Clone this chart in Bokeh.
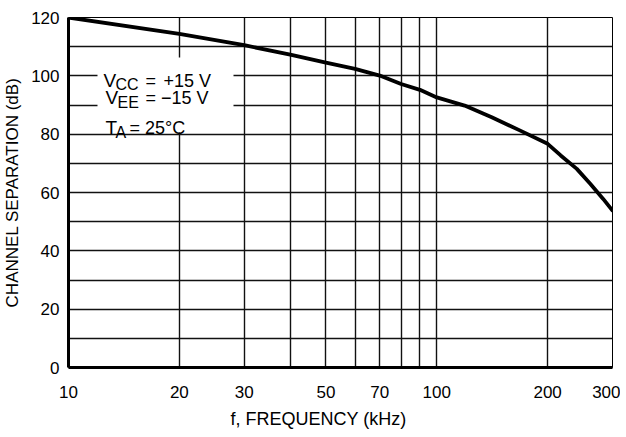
import math
from bokeh.plotting import figure
from bokeh.models import Range1d, FixedTicker, Label, BoxAnnotation, NumeralTickFormatter, Title
from bokeh.embed import file_html
from bokeh.resources import INLINE

# ---- data ----
freq_khz = [10, 20, 30, 40, 50, 60, 70, 80, 90, 100, 119, 141, 168, 200, 217, 240, 261, 283, 300]
sep_db = [120, 114.4, 110.5, 107.3, 104.5, 102.4, 100.1, 97.2, 95.2, 92.6, 89.8, 85.8, 81.3,
          76.7, 72.7, 68.1, 63.0, 57.8, 53.8]

x_ticks = [10, 20, 30, 50, 70, 100, 200, 300]
x_minor = [40, 60, 80, 90]
y_ticks = [0, 20, 40, 60, 80, 100, 120]
y_minor = [10, 30, 50, 70, 90, 110]

FONT = "Liberation Sans"

p = figure(frame_width=544, frame_height=350, x_axis_type="log",
           x_range=Range1d(10, 300), y_range=Range1d(0, 120),
           output_backend="svg", toolbar_location=None,
           min_border_left=68, min_border_right=8, min_border_top=17, min_border_bottom=20)
p.background_fill_color = "white"
p.border_fill_color = "white"
p.outline_line_color = "black"
p.outline_line_width = 1

# frame geometry helpers for annotation placement (pixels -> data)
FX0, FX1 = 68, 612
FY0, FY1 = 367, 17
def fx(px):
    return 10 * 10 ** ((px - FX0) / (FX1 - FX0) * math.log10(30))
def fy(py):
    return (FY0 - py) / (FY0 - FY1) * 120

p.xaxis.ticker = FixedTicker(ticks=x_ticks, minor_ticks=x_minor)
p.yaxis.ticker = FixedTicker(ticks=y_ticks, minor_ticks=y_minor)
p.xaxis.formatter = NumeralTickFormatter(format="0")

for g in (p.xgrid, p.ygrid):
    g.grid_line_color = "#111111"
    g.grid_line_width = 1.4
    g.minor_grid_line_color = "#111111"
    g.minor_grid_line_width = 1.4

for ax in (p.xaxis, p.yaxis):
    ax.axis_line_color = "black"
    ax.axis_line_width = 3
    ax.major_tick_line_color = None
    ax.minor_tick_line_color = None
    ax.major_tick_out = 0
    ax.major_tick_in = 0
    ax.major_label_text_font = FONT
    ax.major_label_text_font_size = "17px"
    ax.major_label_text_color = "black"
    ax.axis_label_text_font = FONT
    ax.axis_label_text_font_size = "17px"
    ax.axis_label_text_font_style = "normal"
    ax.axis_label_text_color = "black"

p.xaxis.major_label_standoff = 14
p.yaxis.major_label_standoff = 5
p.yaxis.axis_label = "CHANNEL SEPARATION (dB)"
p.yaxis.axis_label_standoff = 6

p.add_layout(Title(text="f, FREQUENCY (kHz)", align="left", offset=162,
                   text_font=FONT, text_font_size="18px", text_font_style="normal",
                   text_color="black", standoff=13), "below")

# white legend box
p.add_layout(BoxAnnotation(left=fx(97), right=fx(233), bottom=fy(132), top=fy(57),
                           fill_color="white", fill_alpha=1.0, line_color=None, level="underlay"))

p.line(freq_khz, sep_db, line_color="black", line_width=3.8, line_join="round", line_cap="round")

def lab(text, px, py, size):
    p.add_layout(Label(x=fx(px), y=fy(py), text=text, text_font=FONT,
                       text_font_size=size, text_color="black",
                       text_align="left", text_baseline="alphabetic"))

lab("V", 103, 80, "19px"); lab("CC", 115, 84, "16px"); lab("=", 145, 80, "18px"); lab("+15 V", 163, 80, "18px")
lab("V", 105, 97, "19px"); lab("EE", 117, 102, "16px"); lab("= \u221215 V", 145, 97, "18px")
lab("T", 105, 127, "19px"); lab("A", 115, 132, "16px"); lab("= 25\u00b0C", 129, 127, "18px")

open("out.html", "w").write(file_html(p, INLINE))
